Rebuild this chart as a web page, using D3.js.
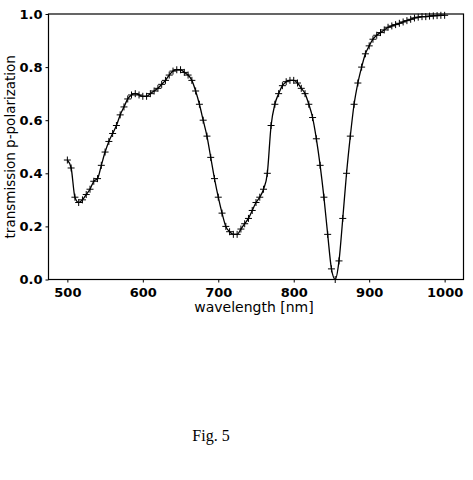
<!DOCTYPE html>
<html><head><meta charset="utf-8">
<script src="https://cdn.jsdelivr.net/npm/d3@7"></script>
<style>body{margin:0;background:#fff}</style></head>
<body><svg id="mainFrame"></svg>
<script>
const wavelengths = d3.range(500, 1001, 5)
const transmission = [
  0.45, 0.42, 0.31, 0.29, 0.30, 0.32, 0.34, 0.37, 0.38, 0.43,
  0.48, 0.52, 0.55, 0.58, 0.62, 0.65, 0.68, 0.695, 0.70, 0.695,
  0.69, 0.69, 0.70, 0.71, 0.72, 0.735, 0.75, 0.77, 0.785, 0.79,
  0.79, 0.78, 0.77, 0.75, 0.71, 0.66, 0.60, 0.54, 0.46, 0.38,
  0.31, 0.25, 0.20, 0.18, 0.17, 0.17, 0.19, 0.21, 0.23, 0.26,
  0.29, 0.31, 0.34, 0.40, 0.58, 0.66, 0.70, 0.73, 0.745, 0.75,
  0.75, 0.74, 0.72, 0.70, 0.66, 0.61, 0.53, 0.43, 0.31, 0.17,
  0.04, 0.0, 0.07, 0.23, 0.40, 0.54, 0.66, 0.74, 0.80, 0.85,
  0.88, 0.905, 0.92, 0.93, 0.94, 0.95, 0.955, 0.96, 0.965, 0.97,
  0.975, 0.98, 0.985, 0.988, 0.99, 0.99, 0.992, 0.993, 0.994, 0.995,
  0.995
]
const xTicks = [500, 600, 700, 800, 900, 1000]
const yTicks = [0, 0.2, 0.4, 0.6, 0.8, 1.0]

const data = wavelengths.map((w, i) => ({w: w, t: transmission[i]}))

const svg = d3.select('#mainFrame')
    .attr('width', 473)
    .attr('height', 480)

const box = {left: 48.5, right: 463.5, top: 14, bottom: 279.5}

const x = d3.scaleLinear().domain([475, 1025]).range([box.left, box.right])
const y = d3.scaleLinear().domain([0, 1]).range([box.bottom, box.top])

const tickFont = 'bold 13px "DejaVu Sans"'

svg.append('g')
    .attr('transform', `translate(0,${box.bottom})`)
    .call(d3.axisBottom(x).tickValues(xTicks).tickFormat(d3.format('d')).tickSize(3).tickSizeOuter(0))
    .call(g => g.selectAll('text').style('font', tickFont).attr('fill', '#000').attr('dy', '0.85em'))
    .call(g => g.select('.domain').remove())

svg.append('g')
    .attr('transform', `translate(${box.left},0)`)
    .call(d3.axisLeft(y).tickValues(yTicks).tickFormat(d3.format('.1f')).tickSize(3).tickSizeOuter(0))
    .call(g => g.selectAll('text').style('font', tickFont).attr('fill', '#000'))
    .call(g => g.select('.domain').remove())

svg.append('rect')
    .attr('x', box.left).attr('y', box.top)
    .attr('width', box.right - box.left).attr('height', box.bottom - box.top)
    .attr('fill', 'none').attr('stroke', '#000').attr('stroke-width', 1.2)

const line = d3.line().x(d => x(d.w)).y(d => y(d.t)).curve(d3.curveMonotoneX)

svg.append('path')
    .datum(data)
    .attr('d', line)
    .attr('fill', 'none')
    .attr('stroke', '#000')
    .attr('stroke-width', 1.3)

// plus markers
svg.append('g').selectAll('path')
    .data(data)
    .join('path')
    .attr('d', d => {
        const px = x(d.w), py = y(d.t), s = 3.5
        return `M${px - s},${py}H${px + s}M${px},${py - s}V${py + s}`
    })
    .attr('stroke', '#000')
    .attr('stroke-width', 1)

svg.append('text')
    .attr('x', (box.left + box.right) / 2 - 2).attr('y', 312)
    .attr('text-anchor', 'middle')
    .style('font', '14px "DejaVu Sans"')
    .text('wavelength [nm]')

svg.append('text')
    .attr('transform', `translate(15,${(box.top + box.bottom) / 2}) rotate(-90)`)
    .attr('text-anchor', 'middle')
    .style('font', '13.5px "DejaVu Sans"')
    .text('transmission p-polarization')

svg.append('text')
    .attr('x', 211).attr('y', 441)
    .attr('text-anchor', 'middle')
    .style('font', '16px "Liberation Serif"')
    .text('Fig. 5')
</script>
</body></html>
